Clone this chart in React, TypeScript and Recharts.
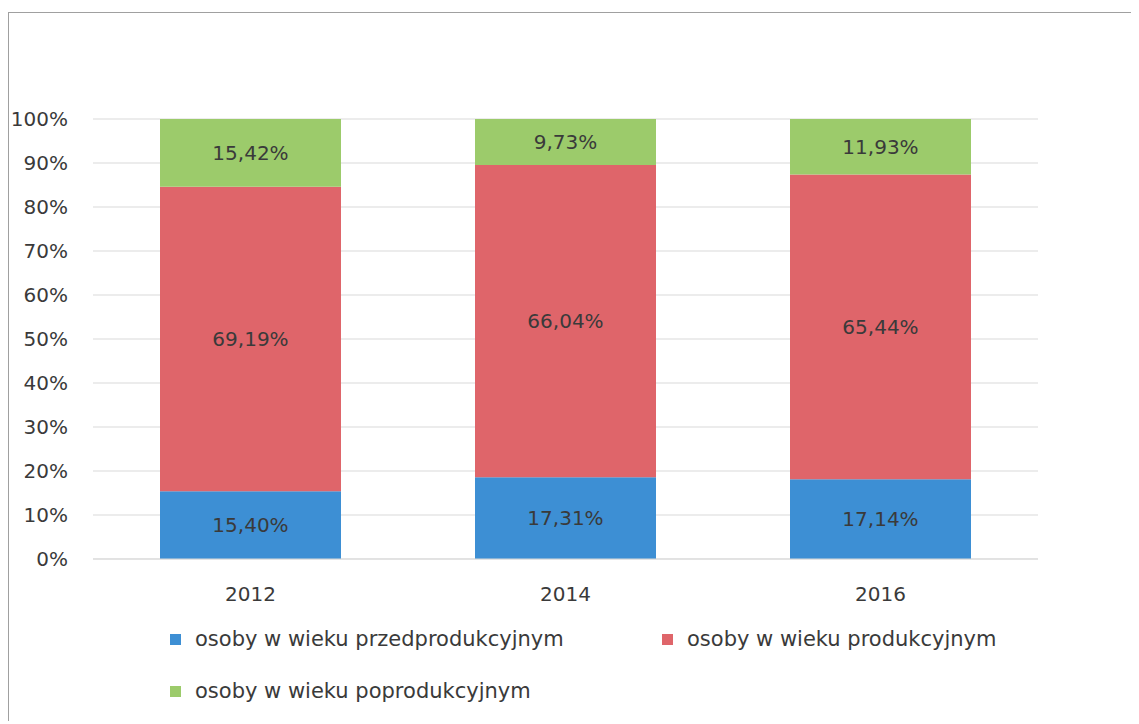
import { BarChart, Bar, XAxis, YAxis, CartesianGrid, Legend, LabelList } from 'recharts'

const years = ['2012', '2014', '2016']
const przed = [15.4, 17.31, 17.14]
const prod = [69.19, 66.04, 65.44]
const popr = [15.42, 9.73, 11.93]
const yTicks = [0, 0.1, 0.2, 0.3, 0.4, 0.5, 0.6, 0.7, 0.8, 0.9, 1]

const series = [
  { key: 'przed', name: 'osoby w wieku przedprodukcyjnym', color: '#3d8fd4' },
  { key: 'prod', name: 'osoby w wieku produkcyjnym', color: '#df656a' },
  { key: 'popr', name: 'osoby w wieku poprodukcyjnym', color: '#9ccb6b' },
]

const data = years.map((y, i) => ({ year: y, przed: przed[i], prod: prod[i], popr: popr[i] }))

const font = '"DejaVu Sans", sans-serif'
const textColor = '#3a3a3a'

const fmt = (v: any) => `${Number(v).toFixed(2).replace('.', ',')}%`

function LegendBox() {
  return (
    <div
      style={{
        display: 'flex',
        flexWrap: 'wrap',
        paddingLeft: 147,
        width: 1000,
        fontFamily: font,
        fontSize: 21,
        color: textColor,
        rowGap: 28,
      }}
    >
      {series.map((s) => (
        <div key={s.key} style={{ width: 492, display: 'flex', alignItems: 'center' }}>
          <span style={{ display: 'inline-block', width: 11, height: 11, background: s.color, marginRight: 14 }} />
          {s.name}
        </div>
      ))}
    </div>
  )
}

export default function App() {
  return (
    <div
      style={{
        position: 'relative',
        left: -1,
        marginTop: 4,
        width: 1122,
        height: 708,
        borderLeft: '2px solid #a0a0a0',
        borderTop: '1px solid #a0a0a0',
        background: '#fff',
      }}
    >
      <BarChart
        width={1120}
        height={708}
        data={data}
        stackOffset="expand"
        barCategoryGap={67}
        margin={{ top: 106, right: 91, left: 14, bottom: 30 }}
      >
        <CartesianGrid vertical={false} stroke="#d9d9d9" />
        <XAxis
          dataKey="year"
          axisLine={{ stroke: '#d9d9d9' }}
          tickLine={false}
          tickMargin={22}
          height={56}
          tick={{ fill: textColor, fontSize: 20, fontFamily: font }}
        />
        <YAxis
          ticks={yTicks}
          domain={[0, 1]}
          interval={0}
          axisLine={false}
          tickLine={false}
          tickSize={0}
          tickMargin={25}
          width={70}
          tickFormatter={(v: number) => `${Math.round(v * 100)}%`}
          tick={{ fill: textColor, fontSize: 20, fontFamily: font }}
        />
        <Legend verticalAlign="bottom" align="left" content={() => <LegendBox />} wrapperStyle={{ bottom: 18 }} />
        {series.map((s) => (
          <Bar key={s.key} dataKey={s.key} name={s.name} stackId="a" fill={s.color} isAnimationActive={false}>
            <LabelList
              dataKey={s.key}
              position="center"
              formatter={fmt}
              fill={textColor}
              style={{ fontSize: 20, fontFamily: font }}
            />
          </Bar>
        ))}
      </BarChart>
    </div>
  )
}
